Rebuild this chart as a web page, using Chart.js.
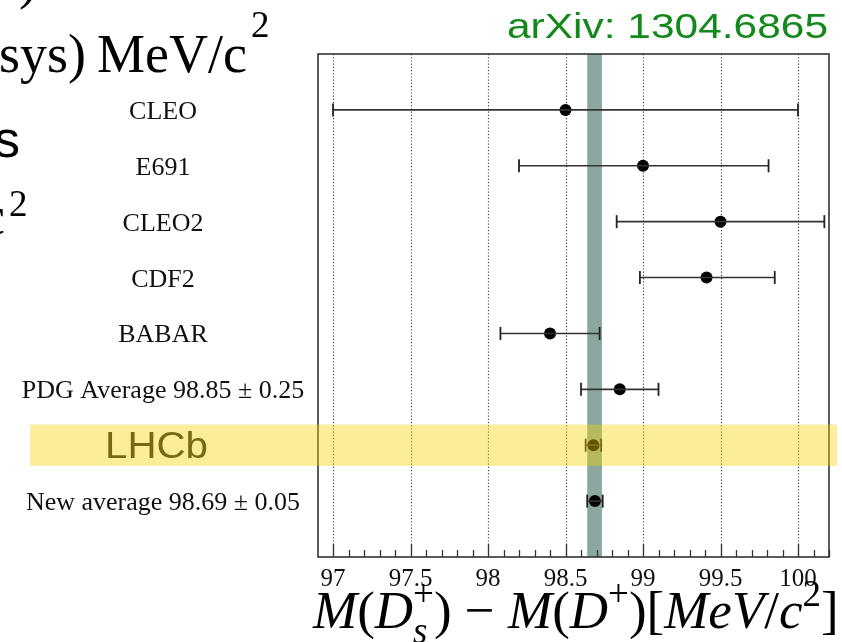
<!DOCTYPE html>
<html>
<head>
<meta charset="utf-8">
<script src="https://cdn.jsdelivr.net/npm/chart.js@4.4.0/dist/chart.umd.min.js"></script>
<style>
  html, body { margin: 0; padding: 0; background: #fff; }
  #wrap { width: 842px; height: 642px; }
</style>
</head>
<body>
<div id="wrap"><canvas id="massChart" width="842" height="642"></canvas></div>
<script>
// measurements, listed top to bottom
const labels = ['CLEO', 'E691', 'CLEO2', 'CDF2', 'BABAR', 'PDG Average 98.85 \u00b1 0.25', 'LHCb', 'New average 98.69 \u00b1 0.05'];
const values = [98.50, 99.00, 99.50, 99.41, 98.40, 98.85, 98.68, 98.69];
const errLow = [97.00, 98.20, 98.83, 98.98, 98.08, 98.60, 98.63, 98.64];
const errHigh = [100.00, 99.81, 100.17, 99.85, 98.72, 99.10, 98.73, 98.74];
const xTicks = [97, 97.5, 98, 98.5, 99, 99.5, 100];
const bandLow = 98.64;
const bandHigh = 98.735;
const highlightRow = 'LHCb';

const serif = '"Liberation Serif", "DejaVu Serif", serif';
const sans = '"Liberation Sans", Arial, sans-serif';

// draw text squeezed/stretched to a given width
function fitText(ctx, text, x, y, width, align) {
  const w = ctx.measureText(text).width;
  const k = width / w;
  ctx.save();
  ctx.translate(x, y);
  ctx.scale(k, 1);
  ctx.textAlign = align || 'left';
  ctx.fillText(text, 0, 0);
  ctx.restore();
}

const backdrop = {
  id: 'backdrop',
  beforeDatasetsDraw(chart) {
    const { ctx, chartArea: a, scales: { x } } = chart;
    ctx.save();
    // dotted grid
    ctx.strokeStyle = '#444';
    ctx.lineWidth = 1.2;
    ctx.setLineDash([1.2, 2]);
    xTicks.forEach(v => {
      const px = Math.round(x.getPixelForValue(v)) + 0.5;
      ctx.beginPath();
      ctx.moveTo(px, a.top);
      ctx.lineTo(px, a.bottom);
      ctx.stroke();
    });
    ctx.setLineDash([]);
    // new average band
    const b0 = x.getPixelForValue(bandLow), b1 = x.getPixelForValue(bandHigh);
    ctx.fillStyle = '#8ba8a0';
    ctx.fillRect(b0, a.top, b1 - b0, a.bottom - a.top);
    // ticks on the bottom axis
    ctx.strokeStyle = '#333';
    ctx.lineWidth = 1.3;
    for (let t = 970; t <= 1002; t++) {
      const px = Math.round(x.getPixelForValue(t / 10)) + 0.5;
      const len = (t % 5 === 0) ? 13 : 7;
      ctx.beginPath();
      ctx.moveTo(px, a.bottom);
      ctx.lineTo(px, a.bottom - len);
      ctx.stroke();
    }
    // frame
    ctx.lineWidth = 1.6;
    ctx.strokeStyle = '#333';
    ctx.strokeRect(a.left, a.top, a.right - a.left, a.bottom - a.top);
    ctx.restore();
  },
  afterDatasetsDraw(chart) {
    const { ctx, scales: { y } } = chart;
    ctx.save();
    ctx.fillStyle = '#111';
    ctx.textBaseline = 'alphabetic';
    labels.forEach((l, i) => {
      const py = y.getPixelForValue(i + 1);
      if (l === highlightRow) {
        ctx.fillStyle = '#222';
        ctx.font = '36px ' + sans;
        fitText(ctx, l, 105, py + 13, 103, 'left');
        ctx.fillStyle = '#111';
      } else {
        ctx.font = '26px ' + serif;
        ctx.textAlign = 'center';
        ctx.fillText(l, 163, py + 9);
      }
    });
    // highlighted row
    const hi = labels.indexOf(highlightRow) + 1;
    const h0 = y.getPixelForValue(hi - 0.37), h1 = y.getPixelForValue(hi + 0.37);
    ctx.fillStyle = 'rgba(246, 210, 0, 0.40)';
    ctx.fillRect(30, h0, 807, h1 - h0);
    ctx.restore();
  },
  afterDraw(chart) {
    const { ctx } = chart;
    ctx.save();
    // reference tag
    ctx.fillStyle = '#12891a';
    ctx.font = '35px ' + sans;
    fitText(ctx, 'arXiv: 1304.6865', 828, 38, 321, 'right');

    // pieces of the slide around the plot
    ctx.fillStyle = '#000';
    ctx.font = '54px ' + serif;
    ctx.fillText(')', 19, -2);
    ctx.fillText('/', 160, -2);
    ctx.fillText('sys)', -1, 72);
    ctx.fillText('MeV/c', 97, 72);
    ctx.font = '37px ' + serif;
    ctx.fillText('2', 251, 37);
    ctx.font = '52px ' + sans;
    ctx.fillText('s', -6, 157);
    ctx.font = '54px ' + serif;
    ctx.fillText('c', -19, 234);
    ctx.font = '37px ' + serif;
    ctx.fillText('2', 9, 216);

    // axis title  M(D_s^+) - M(D^+)[MeV/c^2]
    const size = 53;
    const it = 'italic ' + size + 'px ' + serif;
    const up = size + 'px ' + serif;
    const small = Math.round(size * 0.7) + 'px ' + serif;
    const smallIt = 'italic ' + Math.round(size * 0.7) + 'px ' + serif;
    const parts = [
      { t: 'M', f: it }, { t: '(', f: up }, { t: 'D', f: it },
      { t: '+', f: small, dy: -0.42, sub: { t: 's', f: smallIt, dy: 0.28 } },
      { t: ')', f: up }, { t: ' \u2212 ', f: up },
      { t: 'M', f: it }, { t: '(', f: up }, { t: 'D', f: it }, { t: '+', f: small, dy: -0.42 },
      { t: ')', f: up }, { t: '[', f: up }, { t: 'MeV', f: it }, { t: '/', f: up },
      { t: 'c', f: it }, { t: '2', f: small, dy: -0.42 }, { t: ']', f: up }
    ];
    let cx = 313;
    const base = 628;
    parts.forEach(p => {
      ctx.font = p.f;
      ctx.fillText(p.t, cx, base + (p.dy || 0) * size);
      let w = ctx.measureText(p.t).width;
      if (p.sub) {
        ctx.font = p.sub.f;
        ctx.fillText(p.sub.t, cx, base + p.sub.dy * size);
        w = Math.max(w, ctx.measureText(p.sub.t).width);
      }
      cx += w;
    });
    ctx.restore();
  }
};

const errorSets = labels.map((l, i) => ({
  data: [{ x: errLow[i], y: i + 1 }, { x: errHigh[i], y: i + 1 }],
  showLine: true,
  borderColor: '#333',
  borderWidth: 1.6,
  pointStyle: 'line',
  rotation: 90,
  pointRadius: 6.5,
  pointBorderColor: '#222',
  pointBorderWidth: 1.8
}));

const pointSet = {
  data: values.map((v, i) => ({ x: v, y: i + 1 })),
  pointStyle: 'circle',
  pointRadius: 6,
  backgroundColor: '#000',
  borderColor: '#000',
  borderWidth: 0
};

new Chart(document.getElementById('massChart'), {
  type: 'scatter',
  data: { datasets: [...errorSets, pointSet] },
  options: {
    responsive: false,
    animation: false,
    devicePixelRatio: 1,
    layout: { padding: { left: 318, right: 13, top: 54, bottom: 0 } },
    plugins: { legend: { display: false }, tooltip: { enabled: false } },
    scales: {
      x: {
        type: 'linear',
        min: 96.903,
        max: 100.2,
        afterBuildTicks: s => { s.ticks = xTicks.map(v => ({ value: v })); },
        afterFit: s => { s.height = 85; },
        grid: { display: false, drawTicks: false },
        border: { display: false },
        ticks: {
          font: { family: serif, size: 25 },
          color: '#111',
          padding: 7,
          maxRotation: 0,
          autoSkip: false,
          callback: v => String(v)
        }
      },
      y: { type: 'linear', min: 0, max: 9, reverse: true, display: false }
    }
  },
  plugins: [backdrop]
});
</script>
</body>
</html>
